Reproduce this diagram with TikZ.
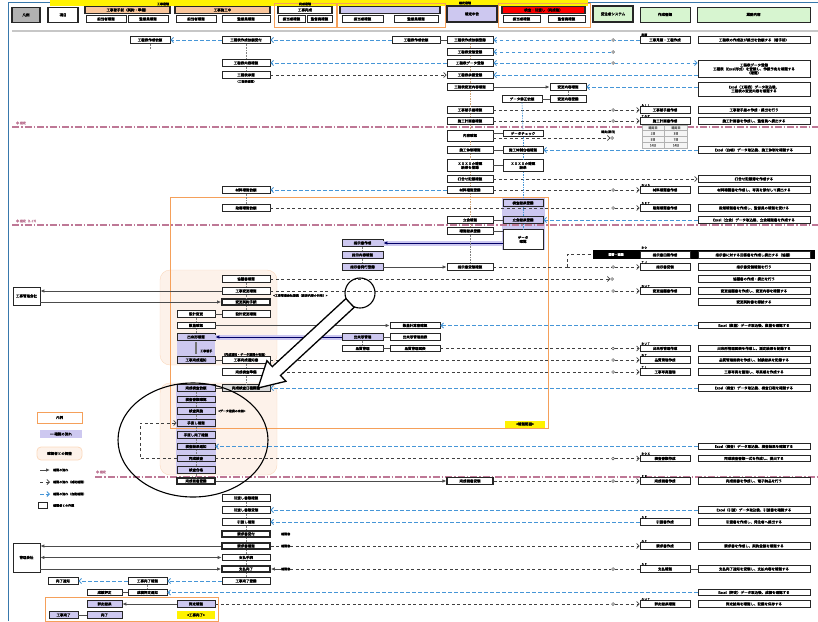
\documentclass[tikz,border=0pt]{standalone}
\usepackage{fontspec}
\newfontfamily\jp{Noto Sans CJK JP}[AutoFakeBold=2.2]
\usetikzlibrary{arrows.meta}
\definecolor{bl}{RGB}{70,150,215}
\definecolor{pk}{RGB}{190,120,150}
\definecolor{lav}{RGB}{205,200,240}
\definecolor{orn}{RGB}{245,160,90}
\definecolor{orf}{RGB}{253,242,234}
\definecolor{grn}{RGB}{215,245,208}
\tikzset{
  bx/.style={draw=black!85, line width=0.75pt, fill=white, minimum height=6.5pt, inner sep=0pt, font=\jp\bfseries\fontsize{3.5}{3.9}\selectfont},
  cA/.style={bx, minimum width=40pt},
  cAA/.style={bx, minimum width=38pt},
  cB/.style={bx, minimum width=48pt},
  cC/.style={bx, minimum width=41pt},
  cX/.style={bx, minimum width=50pt},
  cD/.style={bx, minimum width=46pt},
  cE/.style={bx, minimum width=40pt},
  cF/.style={bx, minimum width=36pt},
  cG/.style={bx, minimum width=50pt},
  cH/.style={bx, minimum width=112pt},
  pu/.style={fill=lav},
  thk/.style={line width=1.8pt},
  tagt/.style={font=\jp\bfseries\fontsize{3}{3.4}\selectfont, inner sep=0pt},
  bDash/.style={draw=bl, dash pattern=on 3.5pt off 2.5pt, line width=0.9pt},
  kDash/.style={draw=black!75, dash pattern=on 3pt off 2.5pt, line width=0.75pt},
  sLine/.style={draw=black!70, line width=0.8pt},
  bArr/.style={-{Straight Barb[length=2.5pt,width=5pt]}},
  sArr/.style={-{Latex[length=4pt,width=3.5pt]}},
  cdot/.style={circle, draw=black!70, fill=white, inner sep=0pt, minimum size=2.8pt, line width=0.5pt},
  pDash/.style={draw=pk, line width=1.1pt, dash pattern=on 7pt off 2pt on 1.5pt off 2pt},
  vdot/.style={draw=black!50, dash pattern=on 0.8pt off 0.8pt, line width=0.6pt},
  rdot/.style={draw=brown!70, dash pattern=on 1.5pt off 1pt, line width=0.6pt},
  edot/.style={draw=bl, dash pattern=on 1.5pt off 1pt, line width=0.6pt},
}
\begin{document}
\begin{tikzpicture}[x=1pt,y=-1pt]
\useasboundingbox (0,0) rectangle (818,621);
% ---------- frame and header ----------
\draw[bl!80!black, line width=0.8pt] (8,621) -- (8,2) -- (818,2);
\fill[yellow] (50,0) rectangle (588,6);
\draw[black!22, line width=2.2pt] (12,31) -- (818,31);
\node[bx, fill=black!30, line width=1.6pt, minimum width=28pt, minimum height=15pt] (hd1) at (26,15) {凡例};
\node[bx, line width=1.6pt, minimum width=30pt, minimum height=15pt] (hd2) at (63,15) {項目};
\node[bx, fill=orn!60, line width=1.2pt, minimum width=85pt] (hd3) at (127.5,10) {工事着手前（契約・準備）};
\node[bx, minimum width=40pt] (hd3a) at (106,19) {担当者確認};
\node[bx, minimum width=40pt] (hd3b) at (148,19) {監督員確認};
\node[bx, fill=orn!60, line width=1.2pt, minimum width=95pt] (hd4) at (222.5,10) {工事施工中};
\node[bx, minimum width=40pt] (hd4a) at (196,19) {担当者確認};
\node[bx, minimum width=48pt] (hd4b) at (246,19) {監督員確認};
\draw[orn, line width=0.9pt] (274,3) rectangle (336,27);
\node[bx, line width=1.2pt, minimum width=54pt] (hd5) at (305,10) {工事完成};
\node[bx, minimum width=27pt] (hd5a) at (291.5,19) {担当者確認};
\node[bx, minimum width=25pt] (hd5b) at (319.5,19) {監督員確認};
\draw[orn, line width=0.9pt] (337,3) rectangle (445,27);
\node[bx, fill=lav, line width=1.2pt, minimum width=100pt] (hd6) at (390,10) {};
\node[bx, minimum width=41pt] (hd6a) at (362.5,19) {担当者確認};
\node[bx, minimum width=44pt] (hd6b) at (416,19) {監督員確認};
\node[bx, fill=lav, line width=1.6pt, minimum width=50pt, minimum height=16pt] (hd7) at (472,14) {確定申告};
\draw[orn, line width=0.9pt] (498,3) rectangle (590,27);
\node[bx, fill=red, line width=1.2pt, minimum width=83pt] (hd8) at (543.5,10) {検査・引渡し（完成後）};
\node[bx, minimum width=37pt] (hd8a) at (521.5,19) {担当者確認};
\node[bx, minimum width=37pt] (hd8b) at (566.5,19) {監督員確認};
\node[bx, fill=grn, line width=1.6pt, minimum width=40pt, minimum height=16pt] (hd9) at (613,14) {受注者システム};
\node[bx, fill=grn, minimum width=50pt, minimum height=15pt] (hd10) at (665,14.5) {作成書類};
\node[bx, fill=grn, minimum width=113pt, minimum height=15pt] (hd11) at (753.5,14.5) {業務内容};
\node[tagt] (hl1) at (163,4) {工事段階};
\node[tagt] (hl2) at (305,4) {完成段階};
\node[tagt] (hl3) at (465,3) {確定段階};
% ---------- regions ----------
\draw[orn!40, fill=orf, rounded corners=10pt] (160,270) rectangle (277,365);
\draw[orn!40, fill=orf, rounded corners=10pt] (160,383) rectangle (277,475);
\fill[lav] (176,384) rectangle (216,474);
\fill[lav] (177,340) rectangle (215,357);
\fill[lav] (502,197) rectangle (545,250);
\draw[orn, line width=0.9pt] (170,197) rectangle (548,428);
\draw[orn, line width=0.9pt] (45,597) rectangle (218,621);
\draw[pDash] (12,127) -- (818,127);
\draw[pDash] (12,225) -- (818,225);
\draw[pDash] (95,477) -- (818,477);
\node[tagt, text=pk, anchor=west] (pl1) at (16,123) {◆ 確定};
\node[tagt, text=pk, anchor=west] (pl2) at (16,221) {◆ 確定（1-17）};
\node[tagt, text=pk, anchor=west] (pl3) at (96,472) {◆ 確定};
% ---------- rows 40 - 190 ----------
\node[cA] (a40) at (150,40) {工程表作成依頼};
\node[cB] (b40) at (246,40) {工程表作成依頼受付};
\node[cX, minimum width=48pt] (x40) at (416,40) {工程表作成依頼};
\node[cD] (d40) at (470,40) {工程表作成依頼登録};
\node[cG] (g40) at (665,40) {工事見積・工程作成};
\node[cH] (h40) at (754,40) {工程表の作成及び提出を依頼する（着手前）};
\node[tagt, anchor=south west] (t40) at (641,36.5) {見積};
\node[cdot] (o40) at (613,40) {};
\draw[bDash,bArr] (b40) -- (a40);
\draw[bDash,bArr] (x40) -- (b40);
\draw[sLine] (x40) -- (d40);
\draw[bDash,bArr] (g40) -- (o40) -- (d40);

\node[cD] (d52) at (470,52) {工程表受領登録};
\node[cdot] (o52) at (613,52) {};
\draw[bDash,bArr] (o52) -- (d52);

\node[cB] (b63) at (246,63) {工程表内容確認};
\node[cD] (d63) at (470,63) {工程表データ登録};
\node[cH, minimum height=17pt, align=center] (h63) at (754,69) {工程表データ登録\\工程表（Excel形式）を登録し、作業予定を確認する\\（確認）};
\node[cdot] (o63) at (613,63) {};
\draw[bDash,bArr] (d63) -- (b63);
\draw[bDash,{Straight Barb[length=2.5pt,width=5pt]}-] (d63) -- (o63);
\draw[bDash,bArr] (o63) -- (h63.west |- d63);

\node[cB] (b75) at (246,75) {工程表承認};
\node[tagt] (t75) at (246,81.5) {（工程表確認）};
\node[cD] (d75) at (470,75) {工程表承認登録};
\draw[kDash,bArr] (b75) -- (d75);
\draw[bDash,bArr] (h63.west |- d75) -- (d75);

\node[cD] (d87) at (470,87) {工程表変更内容確認};
\node[cF] (f87) at (568,87) {変更内容確認};
\node[cH, minimum height=14pt, align=center] (h87) at (754,89) {Excel（工程表）データ取込後、\\工程表の変更内容を確認する};
\draw[sLine,sArr] (d87) -- (f87);
\draw[bDash,bArr] (h87.west |- f87) -- (f87);
\node[cE] (e99) at (522,99) {データ修正依頼};
\node[cF] (f99) at (568,99) {変更内容登録};
\draw[sLine] (e99) -- (f99);

\node[cD] (d110) at (470,110) {工事着手届確認};
\node[cG] (g110) at (665,110) {工事着手届作成};
\node[cH] (h110) at (754,110) {工事着手届の作成・提出を行う};
\node[tagt, anchor=south west] (t110) at (641,106.5) {ＡＬＬ};
\node[cdot] (o110) at (613,110) {};
\draw[kDash,bArr] (d110) -- (o110) -- (g110);

\node[cD] (d121) at (470,121) {施工計画書確認};
\node[cG] (g121) at (665,121) {施工計画書作成};
\node[cH] (h121) at (754,121) {施工計画書を作成し、監督員へ提出する};
\node[tagt, anchor=south west] (t121) at (641,117.5) {ＴＯＰ};
\node[cdot] (o121) at (613,121) {};
\draw[kDash,bArr] (d121) -- (o121) -- (g121);

\node[cD, minimum height=11pt] (d135) at (470,135.5) {内容確認};
\node[cE] (e134) at (523,133.5) {データチェック};
\draw[sLine] (d135.east |- e134) -- (e134);
\node[cdot] (o138) at (612,138) {};
\draw[kDash,bArr] ([yshift=-2.5pt]d135.east) -- (o138);
\node[tagt, anchor=west] (t135) at (601,132) {確定(期日)};
\draw[black!30, fill=black!4, line width=0.4pt] (642,125) rectangle (687,148);
\draw[black!30, line width=0.4pt] (664.5,125) -- (664.5,148) (642,130.5) -- (687,130.5) (642,136.5) -- (687,136.5) (642,142.5) -- (687,142.5);
\node[tagt, text=black!60] (tb1) at (653,127.8) {確定日};
\node[tagt, text=black!60] (tb2) at (676,127.8) {確定日};
\node[tagt, text=black!60] (tb3) at (653,133.5) {1日};
\node[tagt, text=black!60] (tb4) at (676,133.5) {3日};
\node[tagt, text=black!60] (tb5) at (653,139.5) {5日};
\node[tagt, text=black!60] (tb6) at (676,139.5) {7日};
\node[tagt, text=black!60] (tb7) at (653,145.3) {10日};
\node[tagt, text=black!60] (tb8) at (676,145.3) {14日};

\node[cD] (d150) at (470,150) {施工体制確認};
\node[cE] (e150) at (523,150) {施工体制台帳確認};
\node[cH] (h150) at (754,150) {Excel（台帳）データ取込後、施工体制を確認する};
\draw[sLine] (d150) -- (e150);
\draw[bDash,bArr] (h150) -- (e150);

\node[cD, minimum height=12pt, align=center] (d165) at (470,165.5) {ＸＸＸＸの確認\\結果を登録};
\node[cE, minimum height=12pt, align=center] (e165) at (523,165.5) {ＸＸＸＸの確認\\結果};
\draw[sLine] (d165) -- (e165);

\node[cD] (d179) at (470,179) {打合せ記録確認};
\node[cH] (h179) at (754,179) {打合せ記録簿を作成する};
\draw[kDash,bArr] (d179) -- (h179);

\node[cB] (b190) at (246,190) {材料確認依頼};
\node[cD] (d190) at (470,190) {材料確認登録};
\node[cG] (g190) at (665,190) {材料確認書作成};
\node[cH] (h190) at (754,190) {材料確認書を作成し、写真を添付して提出する};
\node[tagt, anchor=south west] (t190) at (641,186.5) {ＢＵＳ};
\node[cdot] (o190) at (613,190) {};
\draw[bDash,bArr] (d190) -- (b190);
\draw[kDash,bArr] (d190) -- (o190) -- (g190);
% ---------- rows 200 - 300 ----------
\node[cE,pu] (e200) at (523,203) {検査結果登録};
\node[cB] (b208) at (246,208) {段階確認依頼};
\node[cG] (g208) at (665,208) {段階確認書作成};
\node[cH] (h208) at (754,208) {段階確認書を作成し、監督員の確認を受ける};
\node[tagt, anchor=south west] (t208) at (641,204.5) {ＳＥＴ};
\node[cdot] (o208) at (613,208) {};
\draw[kDash,bArr] (b208) -- (o208) -- (g208);

\node[cD] (d218) at (470,220) {立会確認};
\node[cE,pu] (e218) at (523,220) {立会結果登録};
\node[cH] (h218) at (754,220) {Excel（立会）データ取込後、立会確認書を作成する};
\draw[sLine] (d218) -- (e218);
\draw[bDash,bArr] (h218) -- (e218);

\node[cD] (d229) at (470,231) {確認結果登録};
\node[cE, minimum height=20pt, align=center] (ebig) at (523,239.5) {データ\\確認};
\draw[sLine] (d229) -- (ebig.west |- d229);

\node[cC,pu] (c243) at (362.5,243) {指示書作成};
\node[cC,pu] (c255) at (362.5,255) {指示内容確認};
\node[cC,pu] (c267) at (362.5,267) {指示書発行登録};
\draw[lav, line width=5pt] (ebig.west |- c243) -- (c243.east);
\draw[sLine, draw=blue!40!black, sArr] (ebig.west |- c243) -- (c243);
\node[cD] (d267) at (470,267) {指示書受領確認};
\node[fill=black, minimum width=222pt, minimum height=9pt, inner sep=0pt] (kb255) at (704,254.5) {};
\node[tagt, text=white] (tk255) at (616,254.5) {回答・協議};
\node[cG] (g255) at (665,255) {指示書回答作成};
\node[cH] (h255) at (754,255) {指示書に対する回答書を作成し提出する（協議）};
\node[tagt, anchor=south west] (t255) at (641,249) {ＢＯ};
\node[cG] (g267) at (665,267) {指示書受領};
\node[cH] (h267) at (754,267) {指示書受領確認を行う};
\node[tagt, anchor=south west] (t267) at (641,263.5) {ＴＪ};
\node[cdot] (o267) at (613,267) {};
\coordinate (j267) at (567,267);
\draw[sLine,sArr] (c267) -- (d267);
\draw[kDash] (d267) -- (j267);
\draw[kDash,bArr] (j267) -- (o267) -- (g267);
\draw[kDash] (j267) -- (j267 |- kb255) -- (kb255.west);

\node[cB] (b279) at (246,279) {協議書確認};
\node[cH] (h279) at (754,279) {協議書の作成・提出を行う};
\node[cdot] (o279) at (612,279) {};
\draw[kDash,bArr] (b279) -- (o279);

\node[bx, minimum width=27pt, minimum height=18pt] (L1) at (26.5,296) {工事管理会社};
\node[cB] (b291) at (246,291) {工事変更確認};
\node[cG] (g291) at (665,291) {変更協議書作成};
\node[cH] (h291) at (754,291) {変更協議書を作成し、変更内容を確認する};
\node[tagt, anchor=south west] (t291) at (641,287.5) {ＢＵＴ};
\node[cdot] (o291) at (613,291) {};
\node[tagt, anchor=west] (t295) at (273,295.5) {<工事管理会社連携（変更内容の共有）>};
\draw[sLine,sArr] (b291) -- (L1.east |- b291);
\draw[kDash,bArr] (b291) -- (o291) -- (g291);
\node[cB, thk] (b302) at (246,302) {変更契約手続};
\node[cH] (h302) at (754,302) {変更契約書を締結する};
\draw[sLine,sArr] (L1.east |- b302) -- (b302);
% ---------- rows 314 - 390 ----------
\node[cAA] (aa314) at (196,314) {設計変更};
\node[cB] (b314) at (246,314) {設計変更確認};
\draw[sLine] (aa314) -- (b314);
\node[cAA] (aa325) at (196,325.5) {数量確認};
\node[cX] (x325) at (415,325.5) {数量計算書確認};
\node[cH] (h325) at (754,325.5) {Excel（数量）データ取込後、数量を確認する};
\draw[sLine,sArr] (aa325) -- (x325);
\draw[bDash,bArr] (h325) -- (x325);
\node[cAA,pu] (aa337) at (196,337) {出来形確認};
\node[cC,pu] (c337) at (362.5,337) {出来形管理};
\node[cX] (x337) at (415,337) {出来形管理図表};
\draw[lav, line width=5pt] (c337.west) -- (aa337.east);
\draw[sLine, draw=blue!40!black, sArr] (c337) -- (aa337);
\draw[sLine] (c337) -- (x337);
\node[cC] (c348) at (362.5,348.5) {品質管理};
\node[cX] (x348) at (415,348.5) {品質管理図表};
\node[cG] (g348) at (665,348.5) {出来形管理作成};
\node[cH] (h348) at (754,348.5) {出来形管理図表を作成し、測定結果を記録する};
\node[tagt, anchor=south west] (t348) at (641,345) {ＢＵＴ};
\node[cdot] (o348) at (613,348.5) {};
\draw[sLine] (c348) -- (x348);
\draw[kDash,bArr] (x348) -- (o348) -- (g348);
\draw[black!55, line width=1.6pt] (196,342) -- (196,354);
\node[tagt, anchor=west] (t352) at (200,351) {工事着手};

\node[cAA,pu] (aa360) at (196,360) {工事完成通知};
\node[cB] (b360) at (246,360) {工事完成通知書};
\node[tagt, anchor=west] (t360) at (222,354.5) {（完成通知・データ連携の有無）};
\node[cG] (g360) at (665,360) {品質管理作成};
\node[cH] (h360) at (754,360) {品質管理図表を作成し、試験結果を記録する};
\node[tagt, anchor=south west] (t360b) at (641,356.5) {ＢＴ};
\node[cdot] (o360) at (613,360) {};
\draw[sLine] (aa360) -- (b360);
\draw[kDash,bArr] (b360) -- (o360) -- (g360);

\node[cB] (b372) at (246,372) {完成検査準備};
\node[cG] (g372) at (665,372) {工事写真整理};
\node[cH] (h372) at (754,372) {工事写真を整理し、写真帳を作成する};
\node[tagt, anchor=south west] (t372) at (641,368.5) {ＴＬ};
\node[cdot] (o372) at (613,372) {};
\draw[kDash,bArr] (b372) -- (o372) -- (g372);

\node[cAA,pu] (aa388) at (196,388) {完成検査依頼};
\node[cB, fill=black!15] (b388) at (246,388) {完成検査日程調整};
\node[cH] (h388) at (754,388) {Excel（検査）データ取込後、検査日程を確認する};
\draw[sLine] (aa388) -- (b388);
\draw[bDash,bArr] (h388) -- (b388);
% ---------- inspection block ----------
\node[cAA,pu] (aa399) at (196,399.5) {検査書類確認};
\node[cAA,pu] (aa411) at (196,411) {検査実施};
\node[tagt, anchor=west] (t411) at (218,411) {<データ連携の有無>};
\node[cAA,pu] (aa423) at (196,423) {手直し確認};
\node[cAA,pu] (aa435) at (196,435) {手直し完了確認};
\node[cAA,pu] (aa446) at (196,446.5) {検査結果通知};
\node[cH] (h446) at (754,446.5) {Excel（検査）データ取込後、検査結果を確認する};
\draw[bDash,bArr] (h446) -- (aa446);
\node[cAA,pu] (aa458) at (196,458.5) {完成検査};
\node[cG] (g458) at (665,458.5) {検査書類作成};
\node[cH] (h458) at (754,458.5) {完成検査書類一式を作成し、提出する};
\node[tagt, anchor=south west] (t458) at (641,455) {ＢＯＸ};
\node[cdot] (o458) at (613,458.5) {};
\draw[kDash,bArr] (aa458) -- (o458) -- (g458);
\coordinate (lp1) at (140,458.5);
\coordinate (lp2) at (140,423);
\draw[kDash,bArr] (aa458) -- (lp1) -- (lp2) -- (aa423);
\node[cAA,pu] (aa470) at (196,470) {検査合格};

\node[cAA, thk] (aa481) at (196,481) {完成図書登録};
\node[cD, thk, line width=1.2pt] (d481) at (470,481) {完成図書受領};
\node[cG] (g481) at (665,481) {完成図書作成};
\node[cH] (h481) at (754,481) {完成図書を作成し、電子納品を行う};
\node[tagt, anchor=south west] (t481) at (641,477.5) {ＥＸ};
\node[cdot] (o481) at (613,481) {};
\draw[sLine,sArr] (aa481) -- (d481);
\draw[kDash,bArr] (d481) -- (o481) -- (g481);
% ---------- rows 498 - 621 ----------
\node[cB] (b498) at (246,498) {引渡し書類確認};
\node[cB] (b510) at (246,510) {引渡し書類受領};
\node[cH] (h510) at (754,510) {Excel（引渡）データ取込後、引渡書を確認する};
\draw[bDash,bArr] (h510) -- (b510);
\node[cB] (b522) at (246,522) {引渡し確認};
\node[cG] (g522) at (665,522) {引渡書作成};
\node[cH] (h522) at (754,522) {引渡書を作成し、発注者へ提出する};
\node[tagt, anchor=south west] (t522) at (641,518.5) {ＳＥ};
\draw[bDash,bArr] (g522) -- (b522);
\node[cB, thk] (b534) at (246,534) {請求書受付};
\node[tagt, anchor=west] (t534) at (281,534) {確認書};
\node[bx, minimum width=27pt, minimum height=29pt] (L2) at (26.5,557.5) {管理会社};
\node[cB, thk] (b546) at (246,546) {請求書確認};
\node[tagt, anchor=west] (t546) at (281,546) {確認書};
\node[cG] (g546) at (665,546) {請求書作成};
\node[cH] (h546) at (754,546) {請求書を作成し、契約金額を確認する};
\node[tagt, anchor=south west] (t546b) at (641,542.5) {ＯＣ};
\draw[sLine,sArr] (b546) -- (L2.east |- b546);
\draw[kDash] (b546) -- (t546);
\draw[kDash,bArr] (t546) -- (g546);
\node[cB] (b557) at (246,557.5) {支払手続};
\draw[sLine,{Latex[length=4pt,width=3.5pt]}-{Latex[length=4pt,width=3.5pt]}] (L2.east |- b557) -- (b557);
\node[cB, thk] (b569) at (246,569) {支払完了};
\node[tagt, anchor=west] (t569) at (281,569) {確認書};
\node[cG] (g569) at (665,569) {支払確認};
\node[cH] (h569) at (754,569) {支払完了通知を受領し、支払内容を確認する};
\node[tagt, anchor=south west] (t569b) at (641,565.5) {ＳＥ};
\node[cdot] (o569) at (613,569) {};
\draw[sLine,sArr] (L2.east |- b569) -- (b569);
\draw[sLine,sArr] (t569) -- (b569);
\draw[kDash] (t569) -- (o569) -- (g569);
\draw[sLine] (g569) -- (h569);
\node[cB] (b580) at (246,581) {工事完了登録};
\node[cA, minimum width=39pt] (a580) at (147.5,581) {工事完了確認};
\node[bx, minimum width=30pt] (q580) at (63,581) {完了通知};
\draw[bDash,bArr] (b580) -- (a580);
\draw[bDash,bArr] (a580) -- (q580);
\node[bx, minimum width=35pt] (p592) at (104.5,592.5) {成績評定};
\node[cA, minimum width=39pt] (a592) at (147.5,592.5) {成績評定通知};
\node[cH] (h592) at (754,592.5) {Excel（評定）データ取込後、成績を確認する};
\draw[sLine] (p592) -- (a592);
\draw[bDash,bArr] (h592) -- (a592);
\node[bx,pu, minimum width=35pt] (p604) at (104.5,604) {評定結果};
\node[cAA,pu] (aa604) at (196,604) {評定確認};
\node[cG] (g604) at (665,604) {評定結果確認};
\node[cH] (h604) at (754,604) {評定結果を確認し、記録を保存する};
\node[tagt, anchor=south west] (t604) at (641,600.5) {ＯＵＴ};
\node[cdot] (o604) at (613,604) {};
\draw[sLine,sArr] (aa604) -- (p604);
\draw[kDash,bArr] (aa604) -- (o604) -- (g604);
\node[bx,pu, minimum width=29pt] (q615) at (63.5,615) {工事完了};
\node[bx,pu, minimum width=35pt] (p615) at (104.5,615) {完了};
\draw[sLine] (q615) -- (p615);
\node[bx, draw=none, fill=yellow, minimum width=38pt, minimum height=8pt] (y615) at (196,615) {<工事完了>};
\node[bx, draw=none, fill=yellow, minimum width=40pt, minimum height=7pt] (y424) at (525,424) {<確認範囲>};
% ---------- vertical links ----------
\foreach \u/\v in {b40/b63, b63/b75, b190/b208, b279/b291, b291/b302, b302/b314, b360/b372, b372/b388,
  b498/b510, b510/b522, b522/b534, b534/b546, b546/b557, b557/b569, b569/b580,
  c243/c255, c255/c267, c337/c348, f87/f99, aa314/aa325, aa325/aa337,
  aa388/aa399, aa399/aa411, aa411/aa423, aa423/aa435, aa435/aa446, aa446/aa458, aa458/aa470, aa470/aa481, a580/a592}
  \draw[vdot] (\u.south) -- (\v.north);
\foreach \u/\v in {d40/d52, d52/d63, d63/d75, d75/d87, d87/d110, d110/d121, d121/d135, d135/d150, d150/d165, d165/d179, d179/d190, d190/d218, d218/d229}
  \draw[rdot] (\u.south) -- (\v.north);
\foreach \u/\v in {e99/e134, e134/e150, e150/e165, e165/e200, e200/e218, e218/ebig}
  \draw[edot] (\u.south) -- (\v.north);
\draw[vdot] (a40.south) -- ++(0,6);
\draw[vdot] (d229.south) -- (d267.north);
% ---------- highlight marks ----------
\draw[line width=1.1pt] (193,440) ellipse [x radius=75pt, y radius=57pt];
\draw[line width=1.1pt] (360,293) circle [radius=15pt];
\draw[line width=1.3pt, fill=white] (354.1,307.4) -- (280.5,375.4) -- (285.9,381.3) -- (258,388) -- (266.9,360.7) -- (272.3,366.6) -- (345.9,298.6) -- cycle;
% ---------- legend ----------
\node[bx, draw=orn, line width=0.9pt, minimum width=45pt, minimum height=11pt] (lg1) at (59.5,417.5) {凡例};
\node[bx, draw=none, fill=lav, minimum width=42pt, minimum height=8pt] (lg2) at (61,434) {━ 確認の流れ};
\node[bx, draw=orn!40, fill=orf, rounded corners=4pt, minimum width=45pt, minimum height=13pt] (lg3) at (59.5,453.5) {確認者との調整};
\coordinate (la1) at (40,470); \coordinate (la2) at (50,470);
\coordinate (lb1) at (40,482); \coordinate (lb2) at (50,482);
\coordinate (lc1) at (40,494); \coordinate (lc2) at (50,494);
\draw[sLine,sArr] (la1) -- (la2);
\draw[kDash,bArr] (lb1) -- (lb2);
\draw[bDash,bArr] (lc1) -- (lc2);
\node[tagt, anchor=west] (lt1) at (53,470) {確認の流れ};
\node[tagt, anchor=west] (lt2) at (53,482) {確認の流れ（補助確認）};
\node[tagt, anchor=west] (lt3) at (53,494) {確認の流れ（自動確認）};
\node[bx, thk, minimum width=9pt, minimum height=6pt] (lg4) at (43,505.5) {};
\node[tagt, anchor=west] (lt4) at (53,505.5) {確認者との作業};
\end{tikzpicture}
\end{document}
